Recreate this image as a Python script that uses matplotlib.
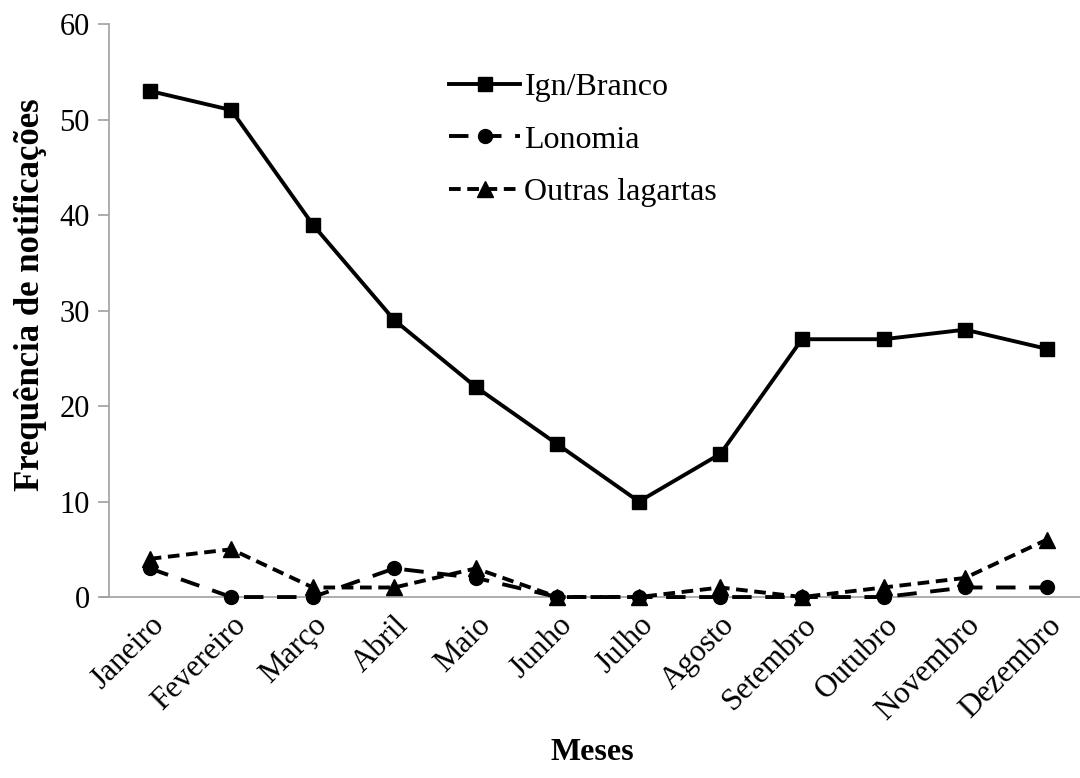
import matplotlib
matplotlib.use("Agg")
import matplotlib.pyplot as plt

meses = ["Janeiro", "Fevereiro", "Março", "Abril", "Maio", "Junho", "Julho",
         "Agosto", "Setembro", "Outubro", "Novembro", "Dezembro"]
ign_branco = [53, 51, 39, 29, 22, 16, 10, 15, 27, 27, 28, 26]
lonomia = [3, 0, 0, 3, 2, 0, 0, 0, 0, 0, 1, 1]
outras = [4, 5, 1, 1, 3, 0, 0, 1, 0, 1, 2, 6]
yticks = [0, 10, 20, 30, 40, 50, 60]

plt.rcParams['font.family'] = ['Liberation Serif', 'DejaVu Serif']

fig = plt.figure(figsize=(10.8, 7.78), dpi=100)
ax = fig.add_axes([0.1009, 0.2326, 0.8991, 0.7364])

x = list(range(len(meses)))
ax.plot(x, ign_branco, color='black', lw=2.8, marker='s', ms=10.5, label='Ign/Branco', clip_on=False, zorder=3)
ax.plot(x, lonomia, color='black', lw=2.8, ls=(0, (5, 3.5)), marker='o', ms=10, label='Lonomia', clip_on=False, zorder=4)
ax.plot(x, outras, color='black', lw=2.8, ls=(0, (3, 1.7)), marker='^', ms=11, label='Outras lagartas', clip_on=False, zorder=4)

ax.set_xlim(-0.5, 11.41)
ax.set_ylim(0, 60)
ax.set_yticks(yticks)
ax.set_xticks(x)
ax.set_xticklabels(meses, rotation=45, ha='right', rotation_mode='anchor', fontsize=22.5)
ax.tick_params(axis='y', labelsize=22, length=8, color='#a0a0a0', width=1.2, pad=6)
ax.tick_params(axis='x', length=0, pad=10)

for s in ['top', 'right']:
    ax.spines[s].set_visible(False)
for s in ['left', 'bottom']:
    ax.spines[s].set_color('#a0a0a0')
    ax.spines[s].set_linewidth(1.2)
ax.spines['bottom'].set_bounds(-0.6, 11.41)

ax.set_ylabel('Frequência de notificações', fontsize=25, fontweight='bold')
ax.yaxis.set_label_coords(-0.064, 0.527)
fig.text(0.548, 0.023, 'Meses', fontsize=23, fontweight='bold', ha='center')

leg = ax.legend(loc='upper left', bbox_to_anchor=(0.321, 0.965), frameon=False, fontsize=23,
                handlelength=2.2, handletextpad=0.15, labelspacing=0.72)

fig.savefig('out.png', dpi=100)
